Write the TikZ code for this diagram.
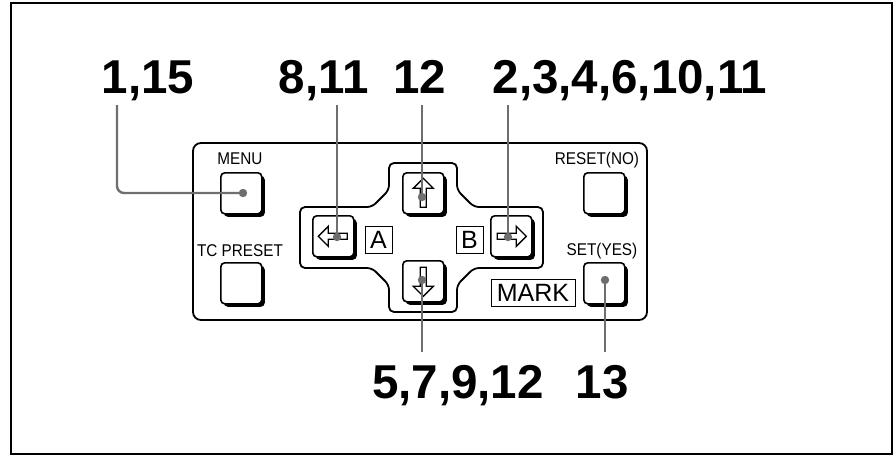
\documentclass[tikz,border=0pt]{standalone}
\usepackage{fontspec}
\setmainfont{Liberation Sans}
\newfontfamily\narrowf{Liberation Sans}[FakeStretch=0.9]
\usetikzlibrary{shadows}
\begin{document}
\begin{tikzpicture}[x=1pt,y=-1pt,
  frame/.style={line width=2pt},
  panel/.style={line width=1.8pt, rounded corners=8pt},
  crossline/.style={line width=1.8pt, rounded corners=5pt},
  btn/.style={draw, line width=1.6pt, rounded corners=4pt, fill=white,
    minimum width=41pt, minimum height=41pt, inner sep=0pt, anchor=north west,
    drop shadow={shadow xshift=3pt, shadow yshift=-3pt, opacity=1, fill=black}},
  glyph/.pic={\draw[line width=1.3pt, fill=white, line join=miter]
    (-15,0) -- (-5,-10) -- (-5,-3) -- (14,-3) -- (14,3) -- (-5,3) -- (-5,10) -- cycle;},
  keytext/.style={font=\narrowf\fontsize{17}{17}\selectfont, inner sep=0pt, anchor=base},
  boxtext/.style={draw, line width=0.9pt, font=\fontsize{25}{25}\selectfont, inner sep=0pt,
    minimum height=27pt, text depth=0pt},
  big/.style={font=\fontsize{47.5}{47.5}\selectfont\bfseries, inner sep=0pt, anchor=base},
  callout/.style={color={rgb,255:red,110;green,110;blue,110}, line width=2.4pt},
  dot/.style={fill={rgb,255:red,110;green,110;blue,110}}
]
\useasboundingbox (0,0) rectangle (893,455);
\draw[frame] (11,3) rectangle (892,454);

% panel
\draw[panel] (193,143) rectangle (647,320);

% cross
\draw[crossline] (389,163) -- (457,163) -- (457,190) -- (474,207) -- (543,207) -- (543,268)
  -- (474,268) -- (457,285) -- (457,312) -- (389,312) -- (389,285) -- (372,268)
  -- (300,268) -- (300,207) -- (372,207) -- (389,190) -- cycle;

% buttons
\node[btn] (menu) at (220,172) {};
\node[btn] (tcp) at (220,262) {};
\node[btn] (left) at (312,215) {};
\node[btn] (up) at (402,172) {};
\node[btn] (right) at (490,215) {};
\node[btn] (down) at (402,260) {};
\node[btn] (reset) at (583,172) {};
\node[btn] (set) at (583,262) {};

% arrow glyphs
\pic at (left.center) {glyph};
\pic[rotate=-90] at (up.center) {glyph};
\pic[rotate=180] at (right.center) {glyph};
\pic[rotate=90] at (down.center) {glyph};

% key texts
\node[keytext] (tmenu) at (240,164) {MENU};
\node[keytext] (ttcp) at (240,256) {TC PRESET};
\node[keytext] (treset) at (597,164) {RESET(NO)};
\node[keytext] (tset) at (602,255) {SET(YES)};

% boxed letters
\node[boxtext, minimum width=27pt] (boxA) at (378.5,239.5) {A};
\node[boxtext, minimum width=27pt] (boxB) at (469.5,239.5) {B};
\node[boxtext, minimum width=84pt] (mark) at (533,292.5) {MARK};

% big labels
\node[big] (l1) at (148,93) {1,15};
\node[big] (l2) at (323.5,93) {8,11};
\node[big] (l3) at (420,93) {12};
\node[big] (l4) at (630,93) {2,3,4,6,10,11};
\node[big, anchor=base east] (l5) at (544,398) {5,7,9,12};
\node[big] (l6) at (602,398) {13};

% callout ends
\coordinate (t1) at (117,105);
\coordinate (t2) at (337,105);
\coordinate (t3) at (422,105);
\coordinate (t4) at (508,105);
\coordinate (t5) at (422,352);
\coordinate (t6) at (605,352);
\coordinate (d1) at (243,193);
\coordinate (d2) at (337,237);
\coordinate (d3) at (422,197);
\coordinate (d4) at (508,237);
\coordinate (d5) at (422,280);
\coordinate (d6) at (605,280);

\draw[callout, rounded corners=7pt] (t1) |- (d1);
\draw[callout] (t2) -- (d2);
\draw[callout] (t3) -- (d3);
\draw[callout] (t4) -- (d4);
\draw[callout] (t5) -- (d5);
\draw[callout] (t6) -- (d6);
\foreach \d in {d1,d2,d3,d4,d5,d6} \fill[dot] (\d) circle[radius=4.2pt];
\end{tikzpicture}
\end{document}
